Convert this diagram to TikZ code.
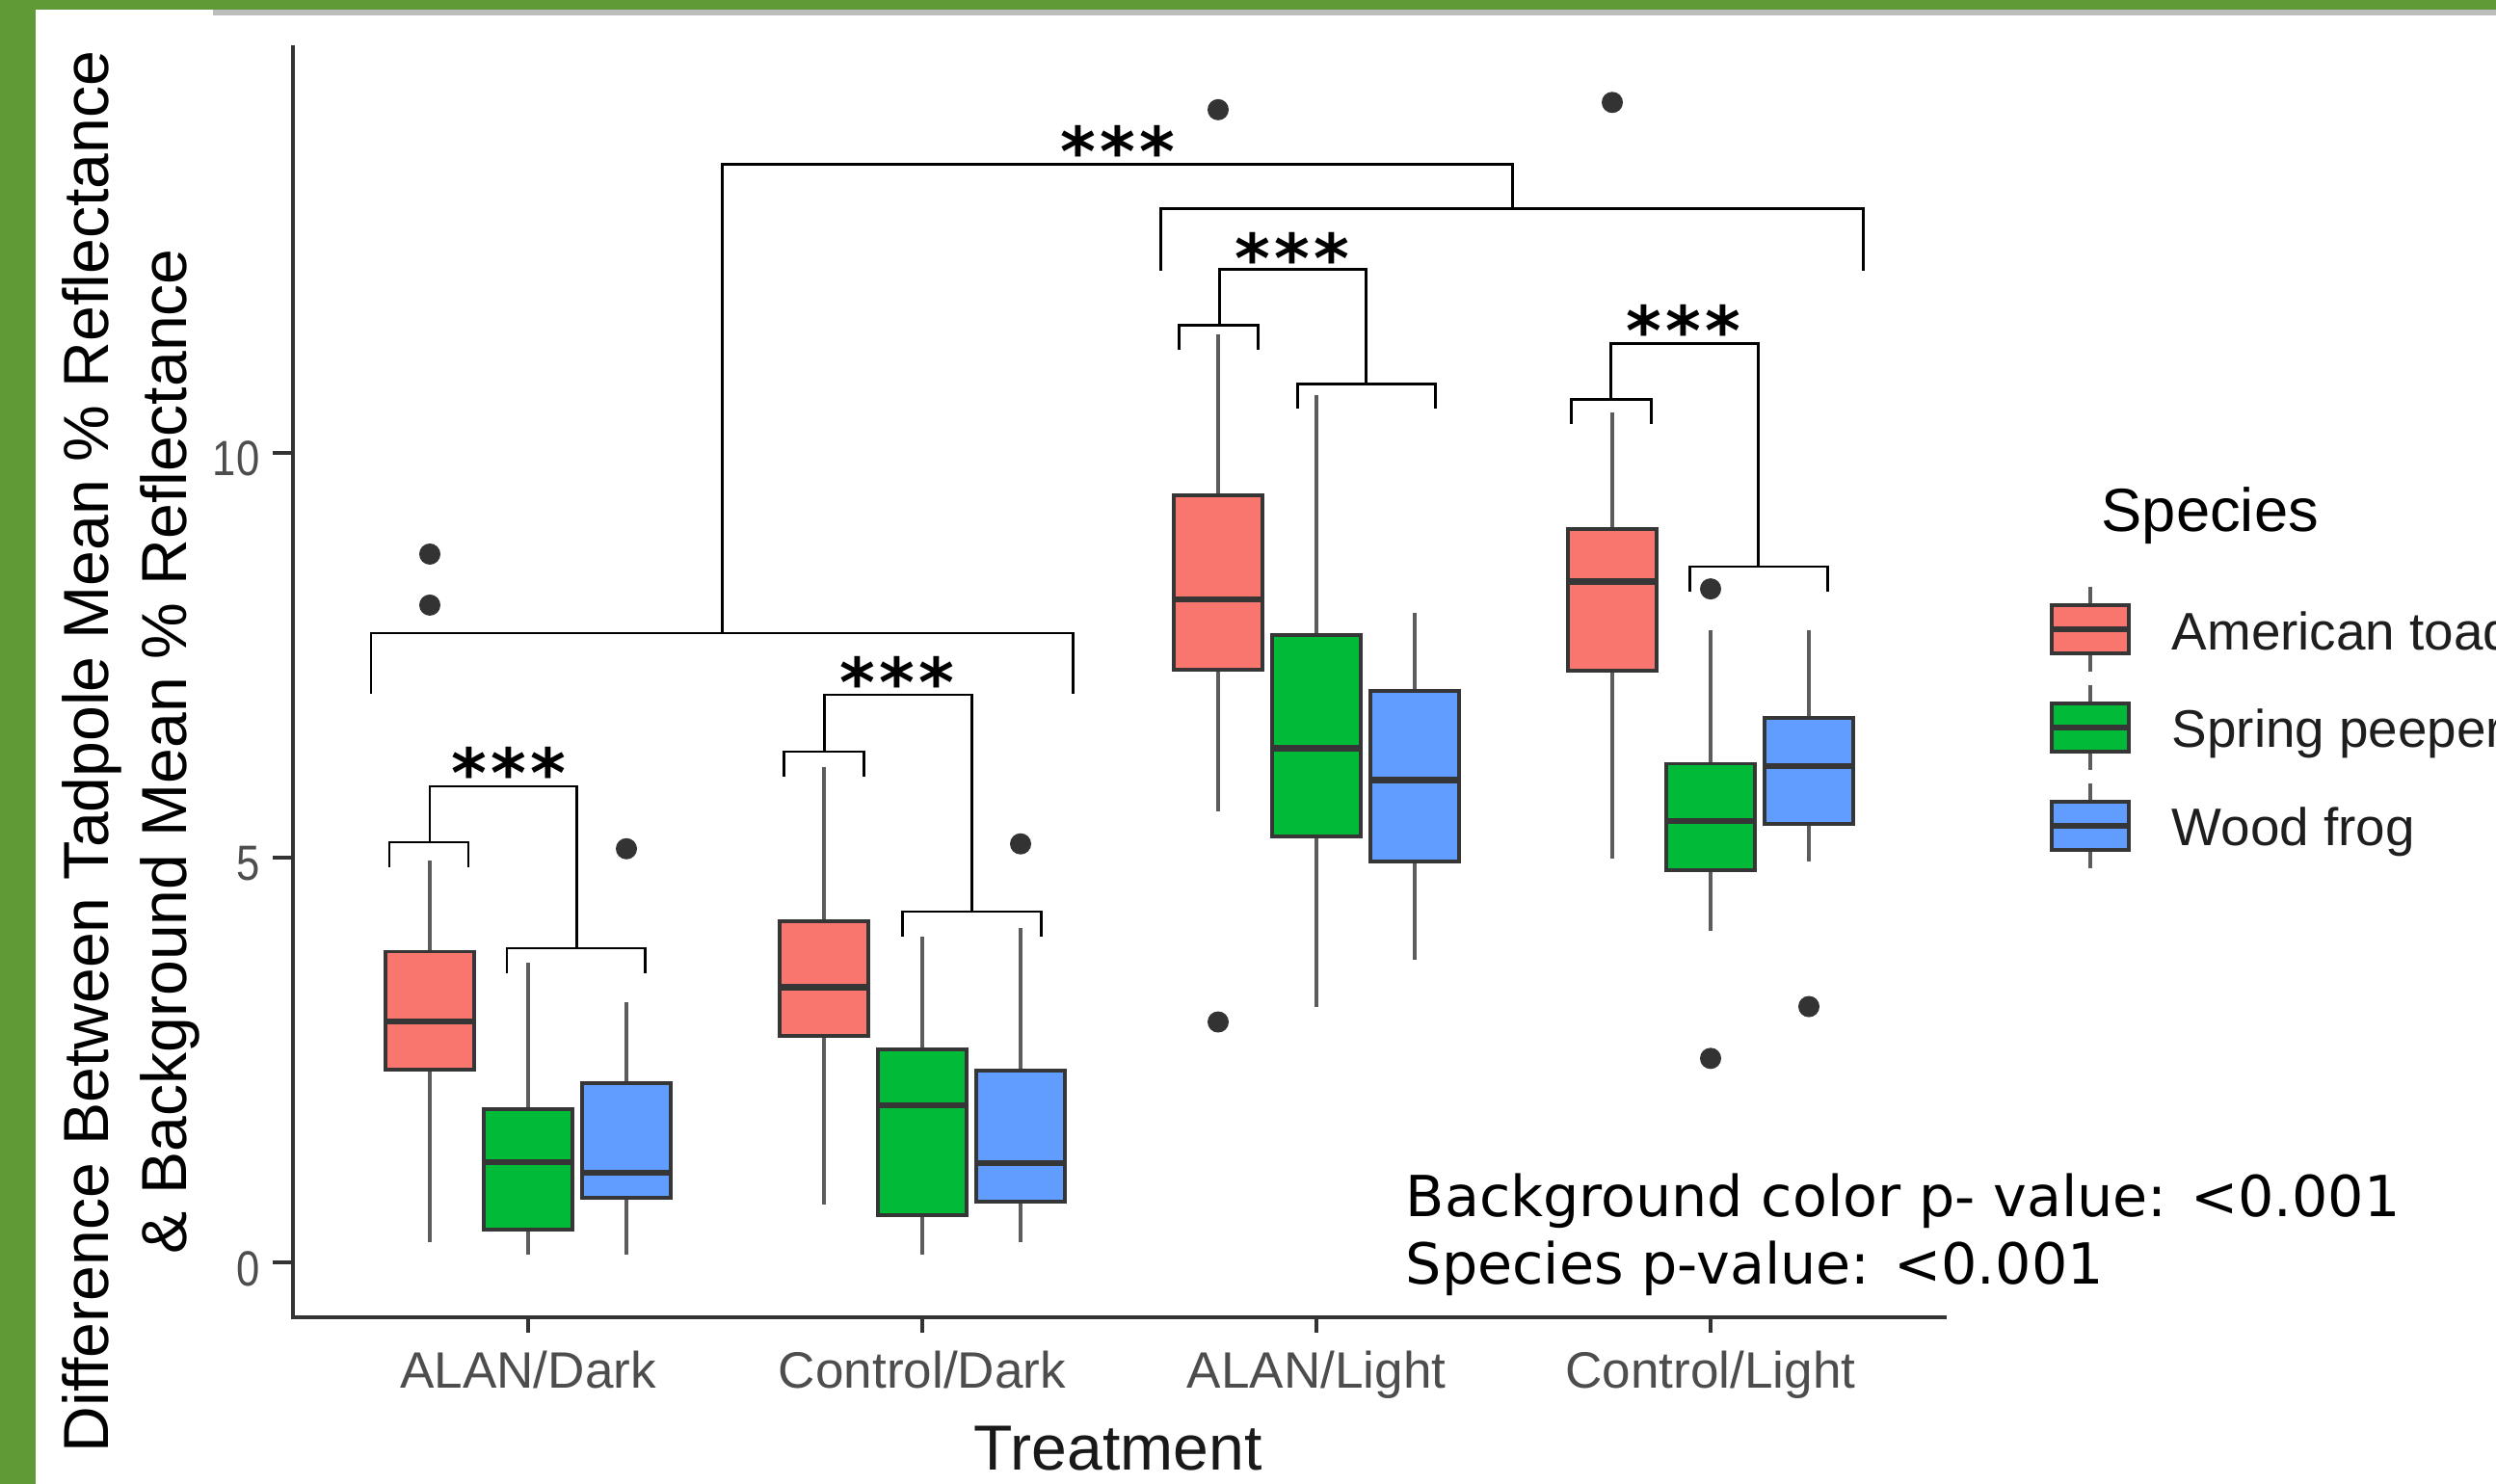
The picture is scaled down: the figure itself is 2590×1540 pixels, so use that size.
\documentclass[tikz,border=0pt]{standalone}
\usepackage{graphicx}
\usepackage{fontspec}
\setmainfont{Liberation Sans}
\newfontfamily\annfont{DejaVu Sans}
\newfontfamily\starfont{DejaVu Sans Bold}
\definecolor{barGreen}{HTML}{5F9A37}
\definecolor{bandGrey}{HTML}{BDBDBD}
\definecolor{toad}{HTML}{F8766D}
\definecolor{peeper}{HTML}{00BA38}
\definecolor{woodfrog}{HTML}{619CFF}
\definecolor{outl}{HTML}{363636}
\definecolor{whiskc}{HTML}{5C5C5C}
\definecolor{tickgrey}{HTML}{4D4D4D}
\definecolor{axisc}{HTML}{333333}
\definecolor{legtext}{HTML}{1E1E1E}
\newcommand{\threestars}{*\kern1.2pt*\kern1.2pt*}
\tikzset{
  whiskline/.style={draw=whiskc, line width=1.2pt},
  boxline/.style={draw=outl, line width=1.1pt},
  medline/.style={draw=outl, line width=1.8pt},
  bracket/.style={draw=black, line width=0.85pt},
  axisline/.style={draw=axisc, line width=1.4pt},
  tickline/.style={draw=axisc, line width=0.9pt},
  ytitle/.style={font=\fontsize{18.8}{22}\selectfont, rotate=90, anchor=base, inner sep=0pt, text=black},
  yticklab/.style={font=\fontsize{14.6}{16}\selectfont, anchor=base east, inner sep=0pt, text=tickgrey},
  xticklab/.style={font=\fontsize{15.1}{17}\selectfont, anchor=base, inner sep=0pt, text=tickgrey},
  xtitle/.style={font=\fontsize{18.8}{22}\selectfont, anchor=base, inner sep=0pt, text=black!90},
  legtitle/.style={font=\fontsize{18}{21}\selectfont, anchor=base west, inner sep=0pt, text=black},
  leglab/.style={font=\fontsize{15.6}{18}\selectfont, anchor=base west, inner sep=0pt, text=legtext},
  annot/.style={font=\annfont\fontsize{16.7}{19}\selectfont, anchor=base west, inner sep=0pt, text=black},
  stars/.style={font=\starfont\fontsize{20}{22}\selectfont, anchor=north, inner sep=0pt, text=black},
}
% #1 x, #2 low whisker, #3 q1, #4 median, #5 q3, #6 high whisker, #7 fill
\newcommand{\plotbox}[7]{%
  \draw[whiskline] (#1,{1310-84*(#6)}) -- (#1,{1310-84*(#5)});
  \draw[whiskline] (#1,{1310-84*(#3)}) -- (#1,{1310-84*(#2)});
  \filldraw[boxline,fill=#7] ({#1-46},{1310-84*(#5)}) rectangle ({#1+46},{1310-84*(#3)});
  \draw[medline] ({#1-46},{1310-84*(#4)}) -- ({#1+46},{1310-84*(#4)});
}
\newcommand{\outpt}[2]{\fill[axisc] (#1,{1310-84*(#2)}) circle[radius=0.11cm];}
\newcommand{\legkey}[2]{%
  \draw[whiskline] (2169,{#1-44}) -- (2169,{#1+44});
  \filldraw[boxline,fill=#2] (2129,{#1-25}) rectangle (2209,{#1+25});
  \draw[medline] (2129,#1) -- (2209,#1);
}
\begin{document}
\begin{tikzpicture}[x=0.01cm,y=-0.01cm]
\useasboundingbox (0,0) rectangle (2590,1540);
\clip (0,0) rectangle (2590,1540);
\fill[white] (0,0) rectangle (2590,1540);
% frame
\fill[barGreen] (0,0) rectangle (37,1540);
\fill[barGreen] (0,0) rectangle (2590,10);
\fill[bandGrey] (221,10) rectangle (2590,16);

% axes
\draw[axisline] (304,47) -- (304,1367) -- (2020,1367);
\foreach \v in {0,5,10} \draw[tickline] (283,{1310-84*\v}) -- (304,{1310-84*\v});
\foreach \c in {548,957,1366,1775} \draw[tickline] (\c,1367) -- (\c,1383);

% y tick labels
\node[yticklab] (y10) at (270,494) {\scalebox{0.85}[1]{10}};
\node[yticklab] (y5) at (270,914) {\scalebox{0.85}[1]{5}};
\node[yticklab] (y0) at (270,1334) {\scalebox{0.85}[1]{0}};

% x tick labels
\node[xticklab] (xa) at (548,1440) {ALAN/Dark};
\node[xticklab] (xb) at (957,1440) {Control/Dark};
\node[xticklab] (xc) at (1366,1440) {ALAN/Light};
\node[xticklab] (xd) at (1775,1440) {Control/Light};
\node[xtitle] (xt) at (1160,1525) {Treatment};

% y title
\node[ytitle] (yt1) at (113,780) {Difference Between Tadpole Mean \% Reflectance};
\node[ytitle] (yt2) at (193,780) {\& Background Mean \% Reflectance};

% boxes: ALAN/Dark (548)
\plotbox{446}{0.25}{2.38}{2.98}{3.84}{4.97}{toad}
\plotbox{548}{0.09}{0.40}{1.24}{1.89}{3.70}{peeper}
\plotbox{650}{0.09}{0.80}{1.11}{2.21}{3.22}{woodfrog}
% Control/Dark (957)
\plotbox{855}{0.72}{2.80}{3.40}{4.21}{6.12}{toad}
\plotbox{957}{0.09}{0.58}{1.94}{2.63}{4.02}{peeper}
\plotbox{1059}{0.25}{0.75}{1.23}{2.37}{4.13}{woodfrog}
% ALAN/Light (1366)
\plotbox{1264}{5.57}{7.32}{8.19}{9.48}{11.46}{toad}
\plotbox{1366}{3.15}{5.26}{6.35}{7.75}{10.71}{peeper}
\plotbox{1468}{3.74}{4.95}{5.96}{7.06}{8.02}{woodfrog}
% Control/Light (1775)
\plotbox{1673}{4.99}{7.31}{8.41}{9.06}{10.50}{toad}
\plotbox{1775}{4.09}{4.85}{5.45}{6.16}{7.81}{peeper}
\plotbox{1877}{4.95}{5.42}{6.13}{6.73}{7.81}{woodfrog}

% outliers
\outpt{446}{8.75}
\outpt{446}{8.12}
\outpt{650}{5.11}
\outpt{1059}{5.17}
\outpt{1264}{14.24}
\outpt{1264}{2.97}
\outpt{1673}{14.33}
\outpt{1775}{8.32}
\outpt{1775}{2.52}
\outpt{1877}{3.16}

% significance brackets: ALAN/Dark
\draw[bracket] (404,900) -- (404,874) -- (486,874) -- (486,900);
\draw[bracket] (446,874) -- (446,816) -- (598,816) -- (598,984);
\draw[bracket] (526,1010) -- (526,984) -- (669,984) -- (669,1010);
\node[stars] (s1) at (528,775) {\threestars};
% Control/Dark
\draw[bracket] (813,806) -- (813,780) -- (896,780) -- (896,806);
\draw[bracket] (855,780) -- (855,721) -- (1008,721) -- (1008,946);
\draw[bracket] (936,972) -- (936,946) -- (1080,946) -- (1080,972);
\node[stars] (s2) at (931,681) {\threestars};
% ALAN/Light
\draw[bracket] (1223,363) -- (1223,338) -- (1305,338) -- (1305,363);
\draw[bracket] (1265,338) -- (1265,280) -- (1417,280) -- (1417,399);
\draw[bracket] (1346,424) -- (1346,399) -- (1489,399) -- (1489,424);
\node[stars] (s3) at (1341,241) {\threestars};
% Control/Light
\draw[bracket] (1630,440) -- (1630,415) -- (1713,415) -- (1713,440);
\draw[bracket] (1671,415) -- (1671,357) -- (1824,357) -- (1824,588);
\draw[bracket] (1753,614) -- (1753,588) -- (1896,588) -- (1896,614);
\node[stars] (s4) at (1747,316) {\threestars};
% Dark vs Light
\draw[bracket] (385,720) -- (385,657) -- (1113,657) -- (1113,720);
\draw[bracket] (1204,281) -- (1204,217) -- (1933,217) -- (1933,281);
\draw[bracket] (749,657) -- (749,171) -- (1569,171) -- (1569,217);
\node[stars] (s5) at (1160,130) {\threestars};

% legend
\node[legtitle] (lt) at (2180,552) {Species};
\legkey{653}{toad}
\legkey{755}{peeper}
\legkey{857}{woodfrog}
\node[leglab] (l1) at (2253,675) {American toad};
\node[leglab] (l2) at (2253,776) {Spring peeper};
\node[leglab] (l3) at (2253,878) {Wood frog};

% annotation
\node[annot] (a1) at (1458,1262) {Background color p- value: <0.001};
\node[annot] (a2) at (1458,1332) {Species p-value: <0.001};
\end{tikzpicture}
\end{document}
